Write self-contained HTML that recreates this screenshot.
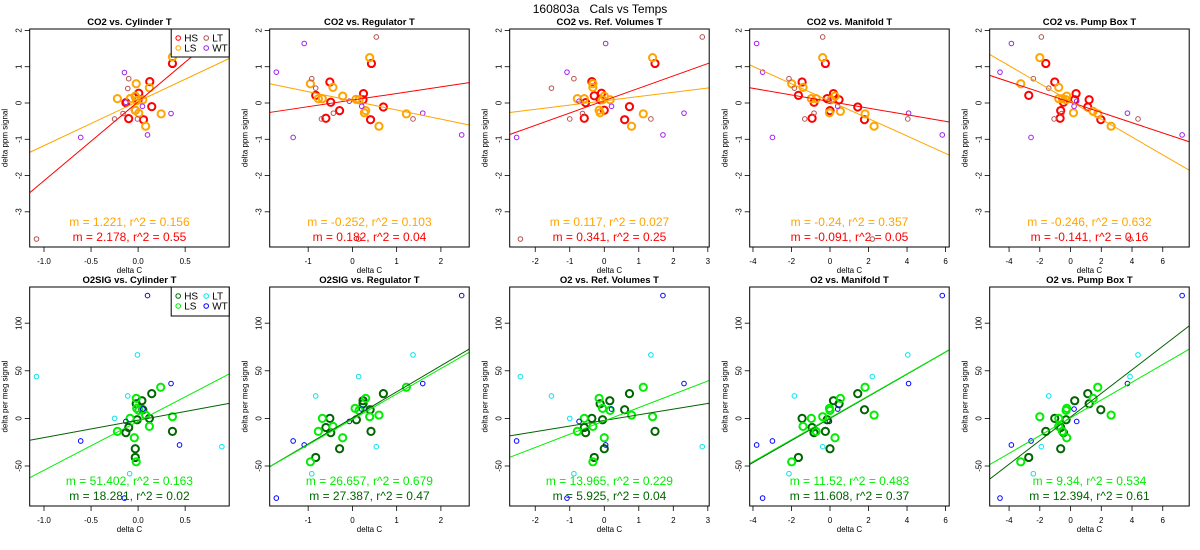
<!DOCTYPE html>
<html><head><meta charset="utf-8"><style>
html,body{margin:0;padding:0;background:#fff;}
svg{display:block;font-family:"Liberation Sans",Arial,sans-serif;}
</style></head><body>
<svg id="chart" width="1200" height="550" viewBox="0 0 1200 550" xmlns="http://www.w3.org/2000/svg">
<text x="600" y="13" text-anchor="middle" font-size="12" style="white-space:pre">160803a   Cals vs Temps</text>
</svg>
<script>
// ---- data ----
const topTitles=["CO2 vs. Cylinder T","CO2 vs. Regulator T","CO2 vs. Ref. Volumes T","CO2 vs. Manifold T","CO2 vs. Pump Box T"];
const botTitles=["O2SIG vs. Cylinder T","O2SIG vs. Regulator T","O2 vs. Ref. Volumes T","O2 vs. Manifold T","O2 vs. Pump Box T"];
const xDomains=[[-1.152,0.968],[-1.87,2.64],[-2.74,3.04],[-4.17,6.19],[-5.26,7.72]];
const xTicks=[["-1.0","-0.5","0.0","0.5"],["-1","0","1","2"],["-2","-1","0","1","2","3"],["-4","-2","0","2","4","6"],["-4","-2","0","2","4","6"]];
const topYDomain=[-3.97,2.04];
const botYDomain=[-92,138];
const topYTicks=[-3,-2,-1,0,1,2];
const botYTicks=[-50,0,50,100];

const topSlopeHS=[2.178,0.182,0.341,-0.091,-0.141];
const topIntHS=[0.035,0.08,0.065,0.04,0.02];
const topR2HS=[0.55,0.04,0.25,0.05,0.16];
const topSlopeLS=[1.221,-0.252,0.117,-0.24,-0.246];
const topIntLS=[0.045,0.06,0.06,0.05,0.046];
const topR2LS=[0.156,0.103,0.027,0.357,0.632];
const botSlopeHS=[18.281,27.387,5.925,11.608,12.394];
const botIntHS=[-1.94,0.5,-2.1,0,1.5];
const botR2HS=[0.02,0.47,0.04,0.37,0.61];
const botSlopeLS=[51.402,26.657,13.965,11.52,9.34];
const botIntLS=[-3.1,-1,-2.6,0.7,0.6];
const botR2LS=[0.163,0.679,0.229,0.483,0.534];

// top row points [x,y]
const t1HS=[[0.365,1.09],[0.124,0.59],[0.007,0.27],[-0.03,0.18],[-0.13,0.01],[0.0,0.09],[0.145,-0.10],[-0.10,-0.43],[0.057,-0.46],[-0.03,-0.2]];
const t1LS=[[0.365,1.27],[-0.02,0.53],[0.12,0.42],[-0.22,0.12],[-0.085,0.12],[-0.03,0.19],[-0.015,0.07],[0.05,0.09],[-0.03,-0.2],[0.007,-0.28],[0.245,-0.3],[0.08,-0.64]];
const t1LT=[[-0.10,0.67],[-0.11,0.40],[-0.25,-0.44],[-0.007,-0.44],[-0.16,-0.29],[-1.08,-3.75]];
const t1WT=[[-0.145,0.84],[-0.61,-0.95],[0.046,-0.09],[0.10,-0.88],[0.35,-0.29],[-0.13,0.02]];
const t2HS=[[0.43,1.09],[-0.51,0.58],[-0.83,0.21],[-0.49,0.02],[0.25,0.26],[0.24,0.09],[-0.29,-0.21],[-0.60,-0.42],[0.70,-0.11],[0.41,-0.46]];
const t2LS=[[0.39,1.25],[-0.95,0.53],[-0.44,0.43],[-0.22,0.19],[-0.77,0.12],[-0.68,0.12],[0.08,0.10],[0.15,0.09],[0.30,-0.21],[0.27,-0.27],[1.22,-0.30],[0.60,-0.64]];
const t2LT=[[0.54,1.82],[-0.92,0.67],[-0.83,0.41],[-0.70,-0.44],[-0.43,-0.28],[1.37,-0.44],[0.14,-3.75]];
const t2WT=[[-1.09,1.64],[-1.72,0.85],[-1.34,-0.95],[-0.07,0.05],[0.21,-0.09],[1.59,-0.28],[2.47,-0.88]];
const t3HS=[[1.47,1.09],[-0.36,0.59],[-0.08,0.27],[-0.29,0.20],[-0.12,0.09],[-0.54,0.01],[0.0,-0.20],[0.73,-0.10],[-0.58,-0.42],[0.59,-0.46]];
const t3LS=[[1.40,1.25],[-0.33,0.53],[-0.33,0.43],[-0.78,0.12],[-0.58,0.12],[0.0,0.19],[-0.05,0.09],[0.17,0.09],[-0.15,-0.20],[-0.12,-0.27],[1.13,-0.30],[0.79,-0.64]];
const t3LT=[[2.84,1.82],[-0.88,0.67],[-1.53,0.41],[-1.0,-0.44],[-0.63,-0.29],[1.35,-0.44],[-2.43,-3.75]];
const t3WT=[[0.04,1.64],[-1.08,0.85],[-2.54,-0.95],[-0.73,0.05],[0.21,-0.09],[2.31,-0.28],[1.70,-0.88]];
const t4HS=[[-0.24,1.09],[-1.45,0.58],[-1.64,0.21],[-0.83,0.02],[0.18,0.26],[-0.15,0.12],[0.47,0.09],[0.0,-0.21],[-0.93,-0.42],[1.44,-0.11],[1.79,-0.46]];
const t4LS=[[-0.38,1.25],[-1.99,0.53],[-1.40,0.43],[-0.97,0.12],[-0.72,0.12],[0.26,0.19],[0.06,0.09],[0.54,-0.23],[-0.03,-0.27],[1.82,-0.30],[2.29,-0.64]];
const t4LT=[[-0.38,1.82],[-2.13,0.67],[-1.85,0.41],[-1.31,-0.44],[-0.83,-0.28],[4.04,-0.44],[2.2,-3.75]];
const t4WT=[[-3.81,1.64],[-3.50,0.85],[-2.99,-0.95],[-0.03,0.05],[0.40,-0.09],[4.08,-0.28],[5.83,-0.88]];
const t5HS=[[-1.61,1.09],[-1.03,0.58],[-2.72,0.21],[-0.46,0.02],[0.36,0.26],[0.27,0.09],[1.21,0.09],[-0.64,-0.21],[-0.68,-0.42],[1.12,-0.11],[1.97,-0.46]];
const t5LS=[[-2.0,1.25],[-3.24,0.53],[-0.77,0.43],[-0.77,0.12],[-0.53,0.12],[-0.25,0.19],[-0.29,0.09],[1.47,-0.23],[0.19,-0.27],[1.77,-0.30],[2.64,-0.64]];
const t5LT=[[-1.90,1.82],[-2.42,0.67],[-1.42,0.41],[-1.07,-0.44],[-0.57,-0.29],[4.39,-0.44],[3.87,-3.75]];
const t5WT=[[-3.85,1.64],[-4.59,0.85],[-2.57,-0.95],[0.40,0.05],[0.23,-0.09],[3.70,-0.28],[7.26,-0.88]];

// bottom row points [x,y]
const b1HS=[[0.145,26],[0.04,18.6],[-0.02,15.4],[0.05,9.1],[0.12,0],[-0.01,-1.4],[-0.10,-9.5],[-0.13,-15],[0.365,-13.6],[-0.03,-31.9],[-0.03,-41]];
const b1LS=[[0.24,32.7],[-0.02,21],[-0.015,10.5],[0.007,8.4],[0.08,3.5],[0.365,1.8],[-0.085,0],[0.12,-8.4],[-0.22,-13.6],[-0.04,-20.3],[-0.02,-45.6]];
const b1LT=[[-1.08,43.9],[-0.007,66.7],[-0.11,23.6],[-0.25,0],[0.89,-29.7],[-0.09,-58.1]];
const b1WT=[[0.10,129],[0.35,36.6],[0.05,9.8],[-0.13,-3.2],[-0.61,-23.7],[0.44,-27.9],[-0.145,-83.7]];
const b2HS=[[0.70,26],[0.24,18.6],[0.24,15.4],[0.40,9.1],[0.09,-1.4],[-0.51,0],[-0.60,-9.5],[-0.49,-15],[0.42,-13.6],[-0.29,-31.9],[-0.83,-41]];
const b2LS=[[1.22,32.7],[0.30,21],[0.06,10.5],[0.15,8.4],[0.60,3.5],[0.39,1.8],[-0.68,0],[-0.44,-8.4],[-0.77,-13.6],[-0.22,-20.3],[-0.95,-45.6]];
const b2LT=[[0.14,43.9],[1.37,66.7],[-0.83,23.6],[0.54,-29.7],[-0.92,-58.1]];
const b2WT=[[2.47,129],[1.59,36.6],[0.21,9.8],[-0.07,-3.2],[-1.34,-23.7],[-1.09,-27.9],[-1.72,-83.7]];
const b3HS=[[0.73,26],[0.16,18.6],[-0.12,15.4],[0.59,9.1],[-0.05,-1.4],[-0.36,0],[-0.58,-9.5],[-0.54,-15],[1.47,-13.6],[0.0,-31.9],[-0.29,-41]];
const b3LS=[[1.13,32.7],[-0.15,21],[-0.05,10.5],[0.17,8.4],[0.79,3.5],[1.40,1.8],[-0.58,0],[-0.33,-8.4],[-0.78,-13.6],[0.0,-20.3],[-0.33,-45.6]];
const b3LT=[[-2.43,43.9],[1.35,66.7],[-1.53,23.6],[-1.0,0],[2.84,-29.7],[-0.88,-58.1]];
const b3WT=[[1.70,129],[2.31,36.6],[0.21,9.8],[-0.73,-3.2],[-2.54,-23.7],[0.04,-27.9],[-1.08,-83.7]];
const b4HS=[[1.44,26],[0.18,18.6],[0.47,15.4],[1.79,9.1],[-0.15,-1.4],[-1.45,0],[-0.93,-9.5],[-0.24,-13.6],[-0.83,-15],[0.0,-31.9],[-1.64,-41]];
const b4LS=[[1.82,32.7],[0.54,21],[-0.03,10.5],[0.0,8.4],[2.29,3.5],[-0.38,1.8],[-0.97,0],[-1.40,-8.4],[-0.72,-13.6],[0.26,-20.3],[-1.99,-45.6]];
const b4LT=[[2.2,43.9],[4.04,66.7],[-1.85,23.6],[-0.38,-29.7],[-2.13,-58.1]];
const b4WT=[[5.83,129],[4.08,36.6],[0.40,9.8],[-0.03,-3.2],[-2.99,-23.7],[-3.81,-27.9],[-3.50,-83.7]];
const b5HS=[[1.12,26],[0.27,18.6],[1.21,15.4],[1.97,9.1],[-0.29,-1.4],[-1.03,0],[-0.64,-9.5],[-1.61,-13.6],[-0.46,-15],[-0.64,-31.9],[-2.72,-41]];
const b5LS=[[1.77,32.7],[1.47,21],[-0.25,10.5],[-0.29,8.4],[2.64,3.5],[-2.0,1.8],[-0.77,0],[-0.77,-8.4],[-0.53,-13.6],[-0.25,-20.3],[-3.24,-45.6]];
const b5LT=[[3.87,43.9],[4.39,66.7],[-1.42,23.6],[-1.90,-29.7],[-2.42,-58.1]];
const b5WT=[[7.26,129],[3.70,36.6],[0.23,9.8],[0.40,-3.2],[-2.57,-23.7],[-3.85,-27.9],[-4.59,-83.7]];

const topPts=[[t1HS,t1LS,t1LT,t1WT],[t2HS,t2LS,t2LT,t2WT],[t3HS,t3LS,t3LT,t3WT],[t4HS,t4LS,t4LT,t4WT],[t5HS,t5LS,t5LT,t5WT]];
const botPts=[[b1HS,b1LS,b1LT,b1WT],[b2HS,b2LS,b2LT,b2WT],[b3HS,b3LS,b3LT,b3WT],[b4HS,b4LS,b4LT,b4WT],[b5HS,b5LS,b5LT,b5WT]];
const groupNames=["HS","LS","LT","WT"];

// ---- drawing ----
const NS="http://www.w3.org/2000/svg";
const svg=document.getElementById('chart');
function mk(tag,attrs,parent){const e=document.createElementNS(NS,tag);for(const k in attrs)e.setAttribute(k,attrs[k]);(parent||svg).appendChild(e);return e;}

const topColors=["#ff0000","#ffa500","#b5524f","#a020f0"];
const botColors=["#006400","#00ee00","#00e5ee","#0000ff"];

function panel(row,col){
  const L=29.7+240*col, R=L+199.5;
  const T=row===0?29:287, B=row===0?247:506;
  const yd=row===0?topYDomain:botYDomain;
  const xd=xDomains[col];
  const sx=v=>L+(v-xd[0])/(xd[1]-xd[0])*(R-L);
  const sy=v=>B-(v-yd[0])/(yd[1]-yd[0])*(B-T);
  const g=mk('g',{});
  
  
  const cid='clip'+row+col;
  const cp=mk('clipPath',{id:cid},g);
  mk('rect',{x:L,y:T,width:R-L,height:B-T},cp);
  // title
  const tt=mk('text',{x:(L+R)/2,y:T-4,'text-anchor':'middle','font-size':9.5,'font-weight':'bold'},g);
  tt.textContent=row===0?topTitles[col]:botTitles[col];
  
  
  // y ticks
  const yt=row===0?topYTicks:botYTicks;
  yt.forEach(v=>{
    const p=sy(v);
    mk('line',{x1:L-5,x2:L,y1:p,y2:p,stroke:'#000','stroke-width':0.8},g);
    const t=mk('text',{x:0,y:0,'text-anchor':'middle','font-size':8,transform:'translate('+(L-8)+','+p+') rotate(-90)'},g);
    t.textContent=String(v);
    
    
  });
  // x ticks
  xTicks[col].forEach(s=>{
    const p=sx(parseFloat(s));
    mk('line',{x1:p,x2:p,y1:B,y2:B+5,stroke:'#000','stroke-width':0.8},g);
    const t=mk('text',{x:p,y:B+17,'text-anchor':'middle','font-size':8},g);
    t.textContent=s;
    
    
  });
  const xl=mk('text',{x:(L+R)/2,y:B+26,'text-anchor':'middle','font-size':8},g);
  xl.textContent='delta C';
  
  
  const yl=mk('text',{x:0,y:0,'text-anchor':'middle','font-size':8,transform:'translate('+(L-22)+','+((T+B)/2)+') rotate(-90)'},g);
  yl.textContent=row===0?'delta ppm signal':'delta per meg signal';
  
  
  // points
  const cols=row===0?topColors:botColors;
  const pts=row===0?topPts[col]:botPts[col];
  const cg=mk('g',{'clip-path':'url(#'+cid+')'},g);
  for(let gi=0;gi<4;gi++){
    const thick=gi<2;
    pts[gi].forEach(d=>{
      const c=mk('circle',{cx:sx(d[0]),cy:sy(d[1]),r:thick?3.6:2.3,fill:'none',stroke:cols[gi],'stroke-width':thick?2:1},cg);
      
      
    });
  }
  // fit lines
  const sHS=row===0?topSlopeHS[col]:botSlopeHS[col], iHS=row===0?topIntHS[col]:botIntHS[col];
  const sLS=row===0?topSlopeLS[col]:botSlopeLS[col], iLS=row===0?topIntLS[col]:botIntLS[col];
  const l1=mk('line',{x1:sx(xd[0]),y1:sy(iHS+sHS*xd[0]),x2:sx(xd[1]),y2:sy(iHS+sHS*xd[1]),stroke:cols[0],'stroke-width':1},cg);
  
  
  const l2=mk('line',{x1:sx(xd[0]),y1:sy(iLS+sLS*xd[0]),x2:sx(xd[1]),y2:sy(iLS+sLS*xd[1]),stroke:cols[1],'stroke-width':1},cg);
  
  
  // box
  mk('rect',{x:L,y:T,width:R-L,height:B-T,fill:'none',stroke:'#000','stroke-width':1},g);
  // annotations
  const r2LS=row===0?topR2LS[col]:botR2LS[col], r2HS=row===0?topR2HS[col]:botR2HS[col];
  const a1=mk('text',{x:(L+R)/2,y:B-21,'text-anchor':'middle','font-size':12,fill:cols[1]},g);
  a1.textContent='m = '+sLS+', r^2 = '+r2LS;
  
  
  const a2=mk('text',{x:(L+R)/2,y:B-6,'text-anchor':'middle','font-size':12,fill:cols[0]},g);
  a2.textContent='m = '+sHS+', r^2 = '+r2HS;
  
  
  // legend in first column
  if(col===0){
    const lg=mk('g',{},g);
    
    
    mk('rect',{x:R-58,y:T,width:58,height:row===0?28:29,fill:'#fff',stroke:'#000','stroke-width':1},lg);
    for(let gi=0;gi<4;gi++){
      const ex=R-51+(gi>=2?28:0), ey=T+9+(gi%2)*10;
      mk('circle',{cx:ex,cy:ey,r:2.3,fill:'none',stroke:cols[gi],'stroke-width':1},lg);
      const t=mk('text',{x:ex+6,y:ey+3.5,'font-size':10},lg);
      t.textContent=groupNames[gi];
      
      
    }
  }
}
for(let r=0;r<2;r++)for(let c=0;c<5;c++)panel(r,c);
</script>
</body></html>
